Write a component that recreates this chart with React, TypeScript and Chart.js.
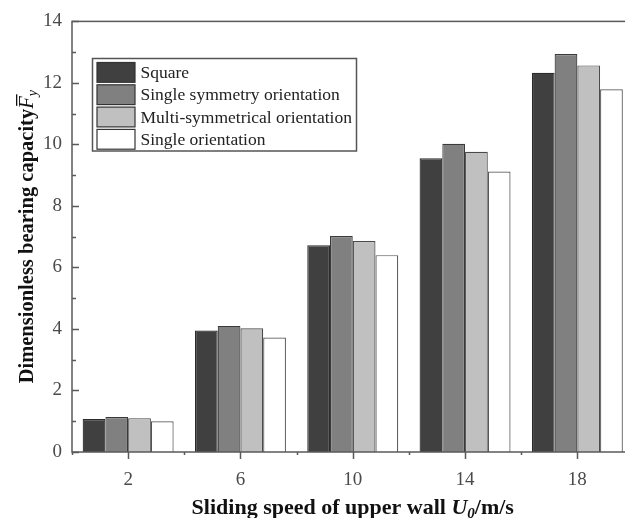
import React, { useEffect, useRef } from "react";
import { Chart, registerables } from "chart.js";

Chart.register(...registerables);

// Sliding speed of the upper wall (m/s)
const speeds = ["2", "6", "10", "14", "18"];

// Dimensionless bearing capacity for each texture orientation
const seriesNames = [
  "Square",
  "Single symmetry orientation",
  "Multi-symmetrical orientation",
  "Single orientation",
];
const squareVals = [1.07, 3.95, 6.72, 9.55, 12.33];
const singleSymVals = [1.14, 4.1, 7.02, 10.02, 12.94];
const multiSymVals = [1.1, 4.02, 6.86, 9.76, 12.57];
const singleOrientVals = [1.0, 3.72, 6.4, 9.12, 11.79];

const fills = ["#404040", "#808080", "#c0c0c0", "#ffffff"];
const edges = ["#2b2b2b", "#3a3a3a", "#4a4a4a", "#555555"];

const Y_MIN = 0;
const Y_MAX = 14;
const Y_STEP = 2;

const SERIF = "'Liberation Serif', 'Times New Roman', serif";

// Frame around the plot plus inward y ticks and outward x ticks
const frameTicksPlugin = {
  id: "frameTicks",
  afterDatasetsDraw(chart: any) {
    const { ctx, chartArea, scales } = chart;
    const { left, right, top, bottom } = chartArea;
    const x = scales.x;
    const y = scales.y;
    ctx.save();
    ctx.strokeStyle = "#5a5a5a";
    ctx.lineWidth = 1.5;
    ctx.strokeRect(left, top, right - left, bottom - top);
    ctx.beginPath();
    for (let v = Y_MIN; v <= Y_MAX; v += 1) {
      const py = Math.round(y.getPixelForValue(v)) + 0.5;
      const len = v % Y_STEP === 0 ? 7 : 4;
      ctx.moveTo(left, py);
      ctx.lineTo(left + len, py);
    }
    for (let i = 0; i < speeds.length; i++) {
      const px = Math.round(x.getPixelForValue(i)) + 0.5;
      ctx.moveTo(px, bottom);
      ctx.lineTo(px, bottom + 7);
    }
    for (let i = 0; i <= speeds.length; i++) {
      const px = Math.round(x.getPixelForValue(i - 0.5)) + 0.5;
      ctx.moveTo(px, bottom);
      ctx.lineTo(px, bottom + 3);
    }
    ctx.stroke();
    ctx.restore();
  },
};

// Boxed legend inside the upper-left of the plot
const boxLegendPlugin = {
  id: "boxLegend",
  afterDraw(chart: any) {
    const { ctx } = chart;
    const bx = 92.5;
    const by = 58.5;
    const bw = 264;
    const bh = 92.5;
    const rowH = 22.3;
    ctx.save();
    ctx.fillStyle = "#ffffff";
    ctx.fillRect(bx, by, bw, bh);
    ctx.strokeStyle = "#555555";
    ctx.lineWidth = 1.5;
    ctx.strokeRect(bx, by, bw, bh);
    ctx.font = `17.5px ${SERIF}`;
    ctx.textBaseline = "middle";
    ctx.textAlign = "left";
    chart.data.datasets.forEach((ds: any, i: number) => {
      const ry = by + 4 + i * rowH;
      ctx.fillStyle = ds.backgroundColor;
      ctx.fillRect(bx + 4.5, ry, 38, rowH - 2.5);
      ctx.strokeStyle = "#333333";
      ctx.lineWidth = 1.2;
      ctx.strokeRect(bx + 4.5, ry, 38, rowH - 2.5);
      ctx.fillStyle = "#222222";
      ctx.fillText(ds.label, bx + 48, ry + (rowH - 2.5) / 2 + 1);
    });
    ctx.restore();
  },
};

type Run = { text: string; font: string; dy?: number; bar?: boolean };

function drawRuns(ctx: CanvasRenderingContext2D, runs: Run[], cx: number, cy: number) {
  let total = 0;
  const widths = runs.map((r) => {
    ctx.font = r.font;
    const w = ctx.measureText(r.text).width;
    total += w;
    return w;
  });
  let xPos = cx - total / 2;
  ctx.textBaseline = "alphabetic";
  ctx.textAlign = "left";
  runs.forEach((r, i) => {
    ctx.font = r.font;
    ctx.fillText(r.text, xPos, cy + (r.dy || 0));
    if (r.bar) {
      ctx.fillRect(xPos + 3, cy - 17, widths[i] - 1, 1.3);
    }
    xPos += widths[i];
  });
}

// Axis titles with italic symbols and subscripts
const axisTitlesPlugin = {
  id: "axisTitles",
  afterDraw(chart: any) {
    const { ctx, chartArea } = chart;
    const { left, right, top, bottom } = chartArea;
    ctx.save();
    ctx.fillStyle = "#111111";
    const xRuns: Run[] = [
      { text: "Sliding speed of upper wall ", font: `bold 22px ${SERIF}` },
      { text: "U", font: `italic bold 22px ${SERIF}` },
      { text: "0", font: `italic bold 15px ${SERIF}`, dy: 4 },
      { text: "/m/s", font: `bold 22px ${SERIF}` },
    ];
    drawRuns(ctx, xRuns, (left + right) / 2, 514);

    ctx.translate(33, (top + bottom) / 2);
    ctx.rotate(-Math.PI / 2);
    const yRuns: Run[] = [
      { text: "Dimensionless bearing capacity", font: `bold 20.5px ${SERIF}` },
      { text: "F", font: `italic 20.5px ${SERIF}`, bar: true },
      { text: "y", font: `italic 14px ${SERIF}`, dy: 4 },
    ];
    drawRuns(ctx, yRuns, 0, 0);
    ctx.restore();
  },
};

export default function App() {
  const canvasRef = useRef<HTMLCanvasElement | null>(null);

  useEffect(() => {
    const canvas = canvasRef.current;
    if (!canvas) return;
    const valueSets = [squareVals, singleSymVals, multiSymVals, singleOrientVals];
    const chart = new Chart(canvas, {
      type: "bar",
      data: {
        labels: speeds,
        datasets: valueSets.map((vals, i) => ({
          label: seriesNames[i],
          data: vals,
          backgroundColor: fills[i],
          borderColor: edges[i],
          borderWidth: 1.2,
          borderSkipped: "bottom",
          categoryPercentage: 0.81,
          barPercentage: 1.0,
        })),
      },
      options: {
        responsive: false,
        maintainAspectRatio: false,
        animation: false,
        devicePixelRatio: 1,
        layout: { padding: { left: 0, top: 15, right: 6.5, bottom: 0 } },
        plugins: {
          legend: { display: false },
          tooltip: { enabled: false },
          title: { display: false },
        },
        scales: {
          x: {
            type: "category",
            offset: true,
            grid: { display: false, drawTicks: false },
            border: { display: false },
            ticks: {
              padding: 17,
              color: "#4a4a4a",
              font: { family: SERIF, size: 19 },
              maxRotation: 0,
            },
            afterFit(scale: any) {
              scale.height = 66;
            },
          },
          y: {
            type: "linear",
            min: Y_MIN,
            max: Y_MAX,
            grid: { display: false, drawTicks: false },
            border: { display: false },
            ticks: {
              stepSize: Y_STEP,
              padding: 10,
              color: "#4a4a4a",
              font: { family: SERIF, size: 19 },
            },
            afterFit(scale: any) {
              scale.width = 72;
            },
          },
        },
      },
      plugins: [frameTicksPlugin, boxLegendPlugin, axisTitlesPlugin],
    });
    return () => chart.destroy();
  }, []);

  return (
    <div
      style={{
        position: "fixed",
        left: 0,
        top: 0,
        width: 625,
        height: 518,
        overflow: "hidden",
        background: "#ffffff",
      }}
    >
      <canvas ref={canvasRef} width={640} height={518} style={{ width: 640, height: 518, display: "block" }} />
    </div>
  );
}
